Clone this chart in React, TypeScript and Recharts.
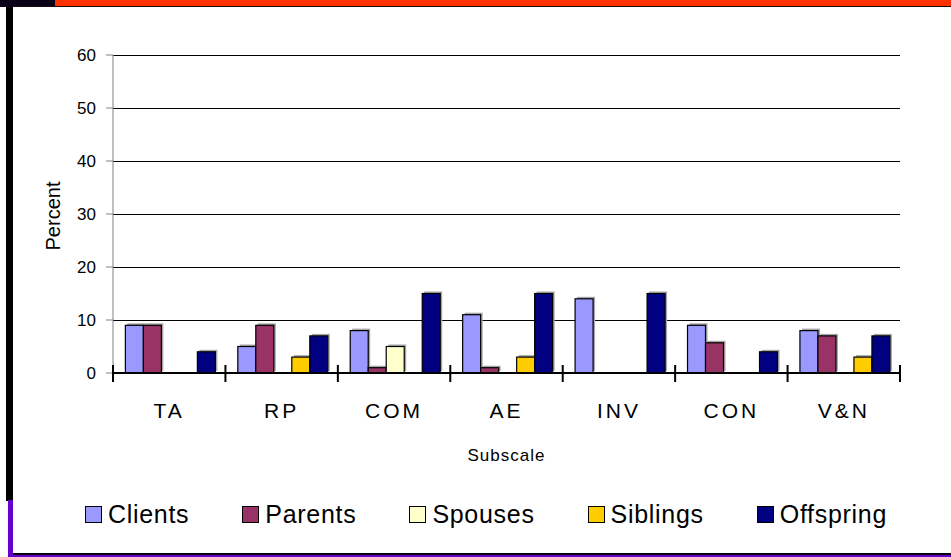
import React from 'react';
import { BarChart, Bar, XAxis, YAxis, CartesianGrid, Legend } from 'recharts';

const categories = ['TA', 'RP', 'COM', 'AE', 'INV', 'CON', 'V&N'];
const clients = [9, 5, 8, 11, 14, 9, 8];
const parents = [9, 9, 1, 1, 0, 5.7, 7];
const spouses = [0, 0, 5, 0, 0, 0, 0];
const siblings = [0, 3, 0, 3, 0, 0, 3];
const offspring = [4, 7, 15, 15, 15, 4, 7];
const yTicks = [0, 10, 20, 30, 40, 50, 60];

const seriesNames = ['Clients', 'Parents', 'Spouses', 'Siblings', 'Offspring'];
const seriesColors = ['#9999FF', '#993366', '#FFFFCC', '#FFCC00', '#000080'];
const seriesValues = [clients, parents, spouses, siblings, offspring];

const data = categories.map((name, i) => {
  const row: any = { name };
  seriesNames.forEach((s, k) => {
    row[s] = seriesValues[k][i];
  });
  return row;
});

const FONT = '"Liberation Sans", Arial, sans-serif';
const TICK_MARGIN = 30;

const ShadowBar = (props: any) => {
  const { x, y, width, height, fill } = props;
  if (!height || height <= 0) return null;
  return (
    <g>
      <rect x={x + 2} y={y - 2} width={width} height={height} fill="#a6a6a6" />
      <rect x={x} y={y} width={width} height={height} fill={fill} stroke="#000" strokeWidth={1.2} />
    </g>
  );
};

const CategoryTick = (props: any) => {
  const { x, y, payload, index, visibleTicksCount } = props;
  const half = payload.offset || 0;
  const axisY = y - TICK_MARGIN;
  const isLast = index === (visibleTicksCount ?? categories.length) - 1;
  return (
    <g>
      <line x1={x - half} x2={x - half} y1={axisY - 8} y2={axisY + 9} stroke="#000" strokeWidth={2} />
      {isLast && <line x1={x + half} x2={x + half} y1={axisY - 8} y2={axisY + 9} stroke="#000" strokeWidth={2} />}
      <text x={x} y={y} dy="0.71em" textAnchor="middle" fontSize={21} letterSpacing={3} fill="#000" fontFamily={FONT}>
        {payload.value}
      </text>
    </g>
  );
};

const LegendContent = () => (
  <div style={{ display: 'flex', alignItems: 'center', fontFamily: FONT, fontSize: 25, letterSpacing: 0.7, lineHeight: '26px', color: '#000' }}>
    {seriesNames.map((name, k) => (
      <div key={name} style={{ display: 'flex', alignItems: 'center', marginRight: 53 }}>
        <span
          style={{
            display: 'inline-block',
            width: 15,
            height: 15,
            border: '1px solid #000',
            background: seriesColors[k],
            marginRight: 6,
          }}
        />
        <span>{name}</span>
      </div>
    ))}
  </div>
);

const PercentLabel = (props: any) => {
  const { viewBox } = props;
  const cx = viewBox.x + 53;
  const cy = viewBox.y + viewBox.height / 2 + 2;
  return (
    <text x={cx} y={cy} transform={`rotate(-90, ${cx}, ${cy})`} textAnchor="middle" dominantBaseline="central" fontSize={20} fill="#000" fontFamily={FONT}>
      Percent
    </text>
  );
};

const SubscaleLabel = (props: any) => {
  const { viewBox } = props;
  const cx = viewBox.x + viewBox.width / 2;
  const cy = viewBox.y + 82;
  return (
    <text x={cx} y={cy} textAnchor="middle" dominantBaseline="central" fontSize={17} letterSpacing={1} fill="#000" fontFamily={FONT}>
      Subscale
    </text>
  );
};

export default function App() {
  return (
    <div style={{ position: 'absolute', left: 0, top: 0, width: 951, height: 557, background: '#fff', overflow: 'hidden' }}>
      {/* frame decoration */}
      <div style={{ position: 'absolute', left: 0, top: 0, width: 55, height: 7, background: '#0a0018' }} />
      <div style={{ position: 'absolute', left: 55, top: 0, width: 896, height: 6, background: '#FF3300' }} />
      <div style={{ position: 'absolute', left: 13, top: 6, width: 938, height: 1, background: '#1a0a0a' }} />
      <div style={{ position: 'absolute', left: 6, top: 7, width: 7, height: 494, background: '#000' }} />
      <div style={{ position: 'absolute', left: 8, top: 500, width: 5, height: 57, background: '#6600CC' }} />
      <div style={{ position: 'absolute', left: 13, top: 553, width: 938, height: 2, background: '#0a0014' }} />
      <div style={{ position: 'absolute', left: 8, top: 555, width: 943, height: 2, background: '#6600CC' }} />
      <div style={{ position: 'absolute', left: 0, top: 0 }}>
        <BarChart
          width={951}
          height={557}
          data={data}
          margin={{ top: 55, right: 51, left: 0, bottom: 0 }}
          barCategoryGap="11%"
          barGap={0}
        >
          <CartesianGrid horizontal vertical={false} stroke="#000" strokeWidth={1} shapeRendering="crispEdges" />
          <XAxis
            dataKey="name"
            type="category"
            interval={0}
            height={184}
            axisLine={{ stroke: '#000', strokeWidth: 2 }}
            tickLine={false}
            tickSize={0}
            tickMargin={TICK_MARGIN}
            tick={<CategoryTick />}
            label={<SubscaleLabel />}
          />
          <YAxis
            width={113}
            domain={[0, 60]}
            ticks={yTicks}
            interval={0}
            tickSize={7}
            tickMargin={10}
            axisLine={{ stroke: '#808080', strokeWidth: 1 }}
            tickLine={{ stroke: '#808080', strokeWidth: 1 }}
            tick={{ fontSize: 17, fill: '#000', fontFamily: FONT }}
            label={<PercentLabel />}
          />
          <Legend
            layout="horizontal"
            verticalAlign="middle"
            align="center"
            wrapperStyle={{ top: 501, left: 85, width: 866 }}
            content={<LegendContent />}
          />
          {seriesNames.map((s, k) => (
            <Bar key={s} dataKey={s} name={s} fill={seriesColors[k]} isAnimationActive={false} shape={<ShadowBar />} />
          ))}
        </BarChart>
      </div>
    </div>
  );
}
